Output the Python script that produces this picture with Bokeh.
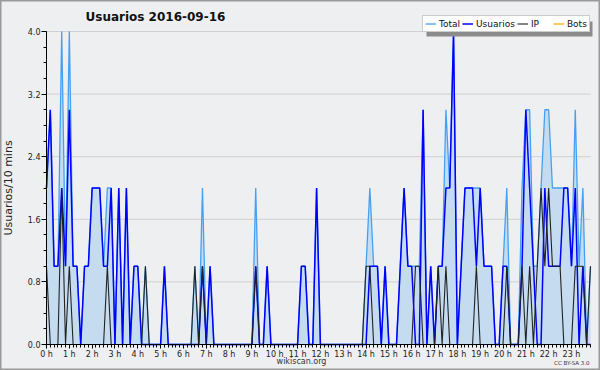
from bokeh.plotting import figure
from bokeh.models import (Range1d, FixedTicker, Legend, LegendItem, Label,
                          BoxAnnotation, PrintfTickFormatter)
from bokeh.embed import file_html
from bokeh.resources import INLINE

# ---------------- data (10-minute slots, 2016-09-16) ----------------
hours = list(range(24))
hour_labels = [f"{h} h" for h in hours]
slots = list(range(144))
y_ticks = [0.0, 0.8, 1.6, 2.4, 3.2, 4.0]

usuarios = [
    2, 3, 1, 1, 2, 1, 3, 1, 1, 0, 1, 1,   # 0h-1h
    2, 2, 2, 1, 1, 2, 0, 2, 0, 2, 0, 1,   # 2h-3h
    1, 0, 0, 0, 0, 0, 0, 1, 0, 0, 0, 0,   # 4h-5h
    0, 0, 0, 0, 0, 1, 0, 1, 0, 0, 0, 0,   # 6h-7h
    0, 0, 0, 0, 0, 0, 0, 1, 0, 0, 1, 0,   # 8h-9h
    0, 0, 0, 0, 0, 0, 0, 1, 1, 0, 0, 2,   # 10h-11h
    0, 0, 0, 0, 0, 0, 0, 0, 0, 0, 0, 0,   # 12h-13h
    0, 1, 1, 1, 0, 1, 0, 0, 0, 1, 2, 1,   # 14h-15h
    1, 0, 0, 3, 0, 1, 0, 1, 1, 2, 2, 4,   # 16h-17h
    0, 1, 2, 2, 2, 1, 2, 1, 1, 1, 0, 0,   # 18h-19h
    1, 1, 0, 0, 0, 1, 3, 2, 1, 0, 0, 2,   # 20h-21h
    1, 1, 1, 1, 2, 2, 1, 2, 0, 1, 0, 0,   # 22h-23h
]
ip = [
    1, 0, 0, 0, 2, 0, 1, 0, 0, 0, 0, 0,
    0, 0, 0, 0, 1, 0, 0, 0, 0, 0, 0, 0,
    0, 0, 1, 0, 0, 0, 0, 0, 0, 0, 0, 0,
    0, 0, 0, 1, 0, 1, 0, 0, 0, 0, 0, 0,
    0, 0, 0, 0, 0, 0, 0, 1, 0, 0, 0, 0,
    0, 0, 0, 0, 0, 0, 0, 0, 0, 0, 0, 0,
    0, 0, 0, 0, 0, 0, 0, 0, 0, 0, 0, 0,
    1, 1, 0, 0, 0, 0, 0, 0, 0, 0, 0, 0,
    0, 1, 1, 0, 0, 0, 0, 1, 0, 1, 0, 0,
    0, 0, 0, 0, 0, 1, 0, 0, 0, 0, 0, 0,
    0, 1, 0, 0, 0, 1, 0, 1, 0, 1, 2, 1,
    2, 1, 1, 1, 0, 0, 0, 1, 1, 1, 0, 1,
]
bots = [
    0, 0, 0, 0, 0, 0, 0, 0, 0, 0, 0, 0,
    0, 0, 0, 0, 0, 0, 0, 0, 0, 0, 0, 0,
    0, 0, 0, 0, 0, 0, 0, 0, 0, 0, 0, 0,
    0, 0, 0, 0, 0, 0, 0, 0, 0, 0, 0, 0,
    0, 0, 0, 0, 0, 0, 0, 0, 0, 0, 0, 0,
    0, 0, 0, 0, 0, 0, 0, 0, 0, 0, 0, 0,
    0, 0, 0, 0, 0, 0, 0, 0, 0, 0, 0, 0,
    0, 0, 0, 0, 0, 0, 0, 0, 0, 0, 0, 0,
    0, 0, 0, 0, 0, 0, 0, 0, 0, 0, 0, 0,
    0, 0, 0, 0, 0, 0, 0, 0, 0, 0, 0, 0,
    0, 0, 0, 0, 0, 0, 0, 0, 0, 0, 0, 0,
    0, 0, 0, 0, 0, 0, 0, 0, 0, 0, 0, 0,
]
total = [
    2, 3, 1, 1, 4, 1, 4, 1, 1, 0, 1, 1,
    2, 2, 2, 1, 2, 2, 0, 2, 0, 2, 0, 1,
    1, 0, 1, 0, 0, 0, 0, 1, 0, 0, 0, 0,
    0, 0, 0, 1, 0, 2, 0, 1, 0, 0, 0, 0,
    0, 0, 0, 0, 0, 0, 0, 2, 0, 0, 1, 0,
    0, 0, 0, 0, 0, 0, 0, 1, 1, 0, 0, 2,
    0, 0, 0, 0, 0, 0, 0, 0, 0, 0, 0, 0,
    1, 2, 1, 1, 0, 1, 0, 0, 0, 1, 2, 1,
    1, 1, 1, 3, 0, 1, 0, 1, 1, 3, 2, 4,
    0, 1, 2, 2, 2, 2, 2, 1, 1, 1, 0, 0,
    1, 2, 0, 0, 0, 2, 3, 3, 1, 1, 2, 3,
    3, 2, 2, 2, 2, 2, 1, 3, 1, 2, 0, 1,
]

# ---------------- geometry (pixels of the 600x370 canvas) ----------------
W, H = 600, 370
PX_L, PX_R, PX_T, PX_B = 46, 590, 31, 344
N = len(slots)
Y_MAX = y_ticks[-1]
SX = (PX_R - PX_L) / (N - 1)          # px per slot
SY = (PX_B - PX_T) / Y_MAX            # px per unit


def dx(px):   # canvas x pixel -> slot units
    return (px - PX_L) / SX


def dy(py):   # canvas y pixel -> value units
    return Y_MAX - (py - PX_T) / SY


# ---------------- styling ----------------
BG = "#eeeff1"
FONT = "DejaVu Sans"
C_TOTAL = "#46a0f2"
C_FILL = "#c5dcf0"
C_USERS = "#0000ff"
C_IP = "#222222"
C_BOTS = "#ffa500"

p = figure(width=W, height=H, output_backend="svg", toolbar_location=None, title=None,
           x_range=Range1d(dx(0), dx(W)), y_range=Range1d(dy(H), dy(0)),
           min_border_left=0, min_border_right=0, min_border_top=0, min_border_bottom=0,
           background_fill_color=BG, border_fill_color=BG,
           outline_line_color="#9a9a9a", outline_line_width=2)

# horizontal grid lines, limited to the data area
p.segment(x0=[slots[0]] * len(y_ticks), x1=[slots[-1]] * len(y_ticks),
          y0=y_ticks, y1=y_ticks, line_color="#cfd0d2", line_width=1)

p.varea(x=slots, y1=0, y2=total, fill_color=C_FILL, fill_alpha=1)
r_total = p.line(slots, total, line_color=C_TOTAL, line_width=1.3)
r_users = p.line(slots, usuarios, line_color=C_USERS, line_width=1.5)
r_ip = p.line(slots, ip, line_color=C_IP, line_width=1.1)
r_bots = p.line(slots, bots, line_color=C_BOTS, line_width=1.2)

# x axis (drawn at y = 0)
p.xaxis.fixed_location = 0
p.xaxis.bounds = (slots[0], slots[-1])
p.xaxis.ticker = FixedTicker(ticks=[h * 6 for h in hours], minor_ticks=slots)
p.xaxis.major_label_overrides = {h * 6: lab for h, lab in zip(hours, hour_labels)}
p.xaxis.major_label_text_font = FONT
p.xaxis.major_label_text_font_size = "8px"
p.xaxis.major_label_text_color = "#222222"
p.xaxis.major_label_standoff = 1
p.xaxis.major_tick_out = 4
p.xaxis.major_tick_in = 0
p.xaxis.minor_tick_out = 3
p.xaxis.minor_tick_in = 0
p.xaxis.axis_line_color = "black"
p.xaxis.major_tick_line_color = "black"
p.xaxis.minor_tick_line_color = "black"

# y axis (drawn at slot 0)
p.yaxis.fixed_location = 0
p.yaxis.bounds = (0, Y_MAX)
p.yaxis.ticker = FixedTicker(ticks=y_ticks, minor_ticks=[k * 0.2 for k in range(21)])
p.yaxis.formatter = PrintfTickFormatter(format="%.1f")
p.yaxis.major_label_text_font = FONT
p.yaxis.major_label_text_font_size = "8px"
p.yaxis.major_label_text_color = "#222222"
p.yaxis.major_label_standoff = 1
p.yaxis.major_tick_out = 5
p.yaxis.major_tick_in = 0
p.yaxis.minor_tick_out = 3
p.yaxis.minor_tick_in = 0
p.yaxis.axis_line_color = "black"
p.yaxis.axis_label = "Usuarios/10 mins"
p.yaxis.axis_label_text_font = FONT
p.yaxis.axis_label_text_font_size = "11px"
p.yaxis.axis_label_text_font_style = "normal"
p.yaxis.axis_label_text_color = "#222222"
p.yaxis.axis_label_standoff = 10

p.xgrid.visible = False
p.ygrid.visible = False

# legend with a drop shadow
p.add_layout(BoxAnnotation(left=dx(426), right=dx(592), top=dy(21), bottom=dy(36),
                           fill_color="#8c8c8c", fill_alpha=1, line_color=None))
legend = Legend(items=[LegendItem(label="Total", renderers=[r_total]),
                       LegendItem(label="Usuarios", renderers=[r_users]),
                       LegendItem(label="IP", renderers=[r_ip]),
                       LegendItem(label="Bots", renderers=[r_bots])],
                orientation="horizontal", location=(422, H - 32),
                label_text_font=FONT, label_text_font_size="9px", label_text_color="#111111",
                glyph_width=11, glyph_height=11, label_height=11,
                label_standoff=3, spacing=2, padding=2, margin=0,
                border_line_color="#9a9a9a", border_line_width=1,
                background_fill_color="white", background_fill_alpha=1)
p.add_layout(legend)

# texts
p.add_layout(Label(x=dx(85), y=dy(16), text="Usuarios  2016-09-16", text_font=FONT,
                   text_font_size="12px", text_font_style="bold", text_baseline="middle",
                   text_align="left", text_color="#111111"))
p.add_layout(Label(x=dx(301), y=dy(361), text="wikiscan.org", text_font=FONT,
                   text_font_size="8px", text_baseline="middle", text_align="center",
                   text_color="#333333"))
p.add_layout(Label(x=dx(589), y=dy(362), text="CC BY-SA 3.0", text_font=FONT,
                   text_font_size="5.5px", text_baseline="middle", text_align="right",
                   text_color="#333333"))

open("out.html", "w").write(file_html(p, INLINE))
